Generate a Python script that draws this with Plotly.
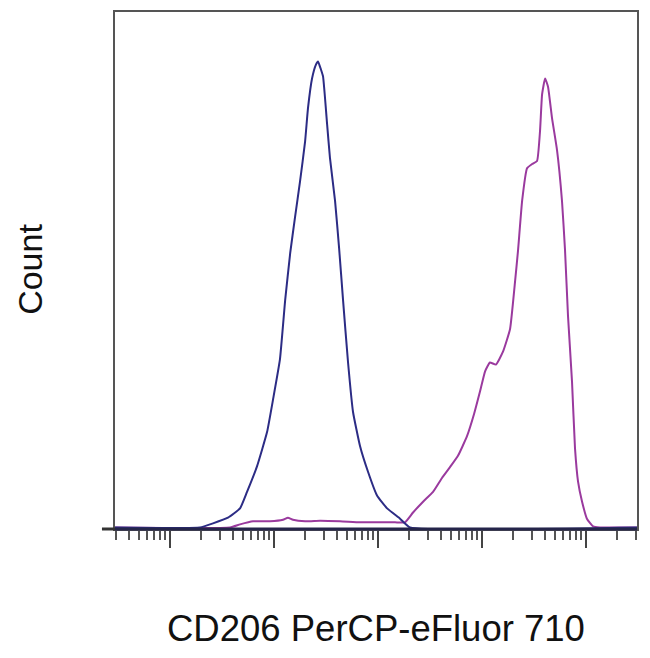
import plotly.graph_objects as go

# isotype control (blue) - fluorescence intensity vs count (% of max)
iso_x = [2.96, 19.4, 25.9, 36.1, 47.1, 55.0, 68.7, 85.7, 97.8, 114, 128, 143, 159, 178,
         199, 212, 232, 253, 265, 283, 296, 324, 345, 386, 422, 461, 515, 575, 671, 801,
         978, 1222, 1629, 2032, 309000]
iso_y = [0, 0, 0.8, 1.9, 3.7, 6.9, 11.9, 18.5, 24.8, 32.6, 44.1, 53.2, 60.1, 67.2,
         74.9, 81.3, 87.1, 89.8, 90.4, 88.8, 87.5, 78.2, 71.7, 63.4, 54.3, 44.1, 32.0,
         22.4, 15.8, 10.8, 6.2, 3.7, 1.7, 0, 0]

# CD206 stained (purple)
cd206_x = [2.96, 37.8, 47.1, 62.8, 91.6, 122, 136, 152, 199, 277, 431, 671, 1045, 1457,
           1818, 2171, 2710, 3380, 4120, 4920, 5870, 7170, 8380, 9570, 10700, 11900,
           13600, 15900, 18600, 20700, 22200, 24300, 27100, 30300, 33800, 36100, 37800,
           40400, 43100, 47100, 52600, 58700, 62800, 67100, 73300, 78300, 83800, 91600,
           102000, 117000, 136000, 309000]
cd206_y = [0, 0, 0.6, 1.2, 1.2, 1.5, 1.9, 1.5, 1.2, 1.3, 1.2, 1.0, 1.0, 1.0,
           1.0, 2.9, 5.0, 6.9, 9.6, 11.7, 13.9, 17.7, 22.0, 26.4, 30.3, 32.0,
           31.6, 34.1, 38.5, 47.4, 53.8, 63.4, 69.7, 70.5, 71.1, 76.9, 84.0,
           87.1, 85.5, 79.4, 73.2, 63.4, 53.8, 41.0, 28.3, 15.4, 8.9, 5.0,
           1.7, 0.2, 0, 0]

x_label = "CD206 PerCP-eFluor 710"
y_label = "Count"

fig = go.Figure()
fig.add_trace(go.Scatter(x=cd206_x, y=cd206_y, mode="lines",
                         line=dict(color="#9a3a9e", width=2, shape="spline", smoothing=0.4)))
fig.add_trace(go.Scatter(x=iso_x, y=iso_y, mode="lines",
                         line=dict(color="#2c2c85", width=2, shape="spline", smoothing=0.4)))

# page body has an 8px margin, so the figure is a bit smaller than the window
fig.update_layout(
    width=642, height=650,
    margin=dict(l=107, r=13, t=2, b=129),
    paper_bgcolor="white", plot_bgcolor="white",
    showlegend=False,
    font=dict(family="Liberation Sans, Arial, sans-serif", color="#111111"),
    xaxis=dict(
        type="log", range=[0.471, 5.49],
        showgrid=False, zeroline=False,
        showline=True, linecolor="#555555", linewidth=2, mirror=True,
        ticks="outside", ticklen=17, tickwidth=2, tickcolor="#444444",
        dtick=1, showticklabels=False,
        minor=dict(ticks="outside", ticklen=9, tickwidth=2, tickcolor="#555555",
                   dtick="D1", showgrid=False),
    ),
    yaxis=dict(
        range=[-0.3, 100],
        showgrid=False, zeroline=False,
        showline=True, linecolor="#555555", linewidth=2, mirror=True,
        ticks="", showticklabels=False,
    ),
    annotations=[
        dict(text=x_label, x=0.5, y=-0.193, xref="paper", yref="paper",
             xanchor="center", yanchor="middle", showarrow=False,
             font=dict(size=36.5, color="#111111")),
        dict(text=y_label, x=-0.163, y=0.503, xref="paper", yref="paper",
             xanchor="center", yanchor="middle", showarrow=False, textangle=-90,
             font=dict(size=34, color="#111111")),
    ],
    shapes=[
        # baseline sticks out a little left of the frame
        dict(type="line", xref="paper", yref="paper", x0=-0.025, x1=0, y0=0, y1=0,
             line=dict(color="#333333", width=3)),
        dict(type="line", xref="paper", yref="paper", x0=0, x1=1, y0=0, y1=0,
             line=dict(color="#25254a", width=3)),
    ],
)

fig.write_html("out.html")
